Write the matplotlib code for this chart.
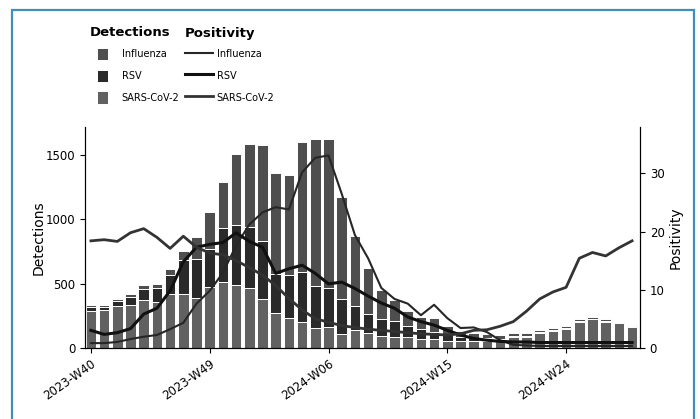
import matplotlib
matplotlib.use('Agg')
import matplotlib.pyplot as plt
from matplotlib.patches import Rectangle
import numpy as np

# surveillance weeks 2023-W40 .. 2024-W29
weeks = ['2023-W%02d' % w for w in range(40, 53)] + \
        ['2024-W%02d' % w for w in range(1, 30)]
tick_weeks = ['2023-W40', '2023-W49', '2024-W06', '2024-W15', '2024-W24']

# weekly detections (stacked: SARS-CoV-2 bottom, RSV middle, influenza top)
det_sars = [288, 293, 325, 332, 371, 360, 416, 416, 390, 470, 514, 488, 462, 379,
            272, 229, 202, 156, 163, 107, 138, 112, 95, 85, 80, 70, 65, 55,
            50, 50, 55, 55, 80, 85, 118, 132, 150, 200, 222, 204, 190, 165]
det_rsv = [30, 25, 38, 65, 90, 105, 150, 270, 300, 300, 420, 467, 480, 454,
           301, 337, 389, 324, 299, 272, 187, 150, 130, 120, 90, 75, 60, 45,
           30, 25, 20, 15, 12, 8, 6, 5, 5, 5, 4, 3, 3, 2]
det_flu = [14, 12, 14, 19, 25, 28, 46, 69, 172, 289, 358, 553, 644, 747,
           791, 778, 1015, 1150, 1168, 796, 547, 356, 227, 170, 115, 96, 108, 69,
           47, 40, 32, 26, 25, 19, 18, 16, 15, 16, 15, 14, 11, 10]

# weekly test positivity (%)
pos_flu = [0.8, 0.8, 1.0, 1.5, 1.9, 2.2, 3.2, 4.3, 7.6, 9.8, 12.9, 17.6, 21.2, 23.3,
           24.2, 23.8, 30.2, 32.7, 33.1, 26.5, 19.4, 15.4, 10.3, 8.4, 7.6, 5.6, 7.4, 5.1,
           3.4, 3.5, 2.7, 1.3, 0.5, 0.4, 0.3, 0.3, 0.3, 0.3, 0.3, 0.3, 0.3, 0.3]
pos_rsv = [3.0, 2.3, 2.6, 3.3, 5.8, 6.8, 9.8, 14.8, 17.3, 17.8, 18.1, 19.8, 18.3, 17.3,
           12.8, 13.6, 14.2, 12.8, 11.0, 11.3, 10.2, 8.9, 7.7, 6.8, 5.3, 4.5, 3.9, 3.0,
           2.2, 1.6, 1.3, 1.1, 1.0, 1.0, 0.9, 0.9, 0.9, 0.9, 0.9, 0.9, 0.9, 0.9]
pos_sars = [18.4, 18.6, 18.3, 19.8, 20.5, 19.0, 17.1, 19.2, 17.3, 16.3, 16.0, 15.0, 13.8, 12.5,
            10.7, 8.5, 6.5, 5.0, 4.4, 3.8, 3.5, 3.2, 3.0, 2.8, 2.6, 2.4, 2.3, 2.2,
            2.4, 3.0, 3.1, 3.7, 4.5, 6.3, 8.4, 9.6, 10.4, 15.4, 16.4, 15.8, 17.2, 18.4]

c_flu, c_rsv, c_sars = '#4e4e4e', '#2a2a2a', '#616161'
border = '#3f8fb8'

x = np.arange(len(weeks))
fig = plt.figure(figsize=(7, 4.19), dpi=100)
ax = fig.add_axes([0.1214, 0.170, 0.7929, 0.527])

bw = 0.8
b_sars = ax.bar(x, det_sars, width=bw, color=c_sars, edgecolor='white', linewidth=0.7)
b_rsv = ax.bar(x, det_rsv, bottom=det_sars, width=bw, color=c_rsv,
               edgecolor='white', linewidth=0.7)
b_flu = ax.bar(x, det_flu, bottom=np.add(det_sars, det_rsv), width=bw, color=c_flu,
               edgecolor='white', linewidth=0.7)

ax.set_xlim(-0.45, 41.6)
ax.set_ylim(0, 1720)
ax.set_yticks([0, 500, 1000, 1500])
ax.set_ylabel('Detections', fontsize=10, labelpad=0)
ax.set_xticks([weeks.index(w) for w in tick_weeks])
ax.set_xticklabels(tick_weeks, rotation=35, ha='right', rotation_mode='anchor', fontsize=8.5)
ax.tick_params(axis='y', labelsize=8.5)
ax.spines['top'].set_visible(False)

ax2 = ax.twinx()
l_flu, = ax2.plot(x, pos_flu, color='#262626', lw=1.5)
l_rsv, = ax2.plot(x, pos_rsv, color='#111111', lw=2.2)
l_sars, = ax2.plot(x, pos_sars, color='#333333', lw=2.0)
ax2.set_ylim(0, 38)
ax2.set_yticks([0, 10, 20, 30])
ax2.set_ylabel('Positivity', fontsize=10, labelpad=3)
ax2.tick_params(axis='y', labelsize=8.5)
ax2.spines['top'].set_visible(False)

# legend: two columns, each with its own bold heading
names = ['Influenza', 'RSV', 'SARS-CoV-2']
fig.text(90 / 700, 1 - 33 / 419, 'Detections', fontsize=9.5, weight='bold', va='center')
fig.text(185 / 700, 1 - 33 / 419, 'Positivity', fontsize=9.5, weight='bold', va='center')
fig.legend([b_flu, b_rsv, b_sars], names, loc='upper left',
           bbox_to_anchor=(97 / 700, 1 - 48 / 419), frameon=False, fontsize=7,
           handlelength=1.1, handleheight=1.6, handletextpad=1.45,
           labelspacing=0.95, borderpad=0, borderaxespad=0)
fig.legend([l_flu, l_rsv, l_sars], names, loc='upper left',
           bbox_to_anchor=(185 / 700, 1 - 48 / 419), frameon=False, fontsize=7,
           handlelength=2.9, handleheight=1.6, handletextpad=0.35,
           labelspacing=0.95, borderpad=0, borderaxespad=0)

fig.patches.append(Rectangle((12 / 700, -0.05), 682 / 700, 1.05 - 10 / 419,
                             transform=fig.transFigure, fill=False,
                             edgecolor=border, linewidth=1.6))

fig.savefig('out.png', dpi=100)
